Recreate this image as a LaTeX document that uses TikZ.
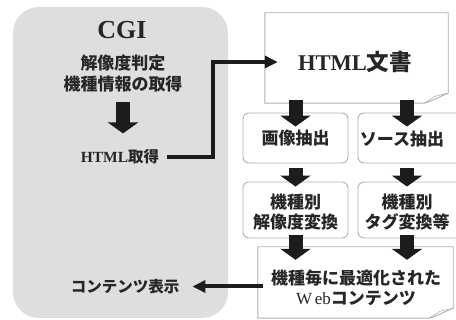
\documentclass[tikz,border=0pt]{standalone}
\usepackage{fontspec}
\setmainfont{Liberation Serif}
\newfontfamily\cjk{Noto Sans CJK JP}
\usetikzlibrary{arrows.meta,calc}
\definecolor{bggray}{HTML}{DEDEDE}
\definecolor{blkcol}{HTML}{1C1C1C}
\definecolor{linegray}{HTML}{B0B0B0}
\newcommand\jtxt[1]{{\cjk\bfseries #1}}
\tikzset{
  lbl/.style={inner sep=0pt, align=center, font=\fontsize{17}{20.5}\selectfont\bfseries, text=black!85},
  roundbox/.style={draw=linegray, line width=0.9pt, rounded corners=6pt, fill=white},
  docframe/.style={inner sep=0pt},
  docline/.style={draw=linegray, line width=0.9pt, fill=white},
  blk/.style={draw=blkcol, line width=14pt, -{Triangle[width=30pt,length=11pt]}},
  conn/.style={draw=blkcol, line width=4pt, -{Triangle[width=12pt,length=13pt]}},
}
\begin{document}
\begin{tikzpicture}[x=1pt,y=-1pt]
\useasboundingbox (0,0) rectangle (456,320);
\clip (0,0) rectangle (456,320);
% CGI background
\node[fill=bggray, rounded corners=26pt, minimum width=215pt, minimum height=311pt, inner sep=0pt] (cgibox) at (120.5,162.5) {};
\node[lbl, font=\fontsize{26}{28}\selectfont\bfseries] (cgi) at (122,30) {CGI};
\node[lbl] (judge) at (123,73.5) {\jtxt{解像度判定}\\\jtxt{機種情報の取得}};
\node[lbl, font=\fontsize{15.5}{18}\selectfont\bfseries] (get) at (120,157) {HTML\jtxt{取得}};
\node[lbl, font=\fontsize{15.5}{18}\selectfont\bfseries] (show) at (125,286.5) {\jtxt{コンテンツ表示}};
% HTML document
\node[docframe, minimum width=183pt, minimum height=90pt] (html) at (356.5,58) {};
\draw[docline] (html.north west) -- (html.north east) -- ($(html.south east)+(0,-10)$)
  .. controls ($(html.south east)+(-8,-7)$) and ($(html.south east)+(-16,-2)$) .. ($(html.south east)+(-24,0)$)
  -- (html.south west) -- cycle;
\draw[docline, fill=none, line width=0.6pt] ($(html.south east)+(-24,0)$) -- ($(html.south east)+(-13,-7)$) -- ($(html.south east)+(0,-10)$);
\node[lbl, font=\fontsize{22.5}{25}\selectfont\bfseries] (htmltxt) at (355,62) {HTML\jtxt{文書}};
% boxes
\node[roundbox, minimum width=105pt, minimum height=50pt, inner sep=0pt] (img) at (295.5,138) {};
\node[lbl] at (img.center) {\jtxt{画像抽出}};
\node[roundbox, minimum width=106pt, minimum height=50pt, inner sep=0pt] (src) at (411,138) {};
\node[lbl] at (402,139) {\jtxt{ソース抽出}};
\node[roundbox, minimum width=105pt, minimum height=56pt, inner sep=0pt] (conv) at (295.5,210) {};
\node[lbl] at (295.5,212) {\jtxt{機種別}\\\jtxt{解像度変換}};
\node[roundbox, minimum width=106pt, minimum height=56pt, inner sep=0pt] (tag) at (411,210) {};
\node[lbl] at (407,212) {\jtxt{機種別}\\\jtxt{タグ変換等}};
% Web document
\node[docframe, minimum width=195pt, minimum height=71pt] (web) at (355.5,282.5) {};
\draw[docline] (web.north west) -- (web.north east) -- ($(web.south east)+(0,-10)$)
  .. controls ($(web.south east)+(-8,-7)$) and ($(web.south east)+(-16,-2)$) .. ($(web.south east)+(-24,0)$)
  -- (web.south west) -- cycle;
\draw[docline, fill=none, line width=0.6pt] ($(web.south east)+(-24,0)$) -- ($(web.south east)+(-13,-7)$) -- ($(web.south east)+(0,-10)$);
\node[lbl] (webtxt) at (356,288) {\jtxt{機種毎に最適化された}\\{\mdseries W\,eb}\jtxt{コンテンツ}};
% block arrows
\draw[blk] ($(judge.south)+(0,10)$) -- ($(get.north)+(3,-16)$);
\draw[blk] ($(html.south -| img.north)+(0,-3)$) -- ($(img.north)+(0,14)$);
\draw[blk] ($(html.south -| src.north)+(-4,-3)$) -- ($(src.north)+(-4,14)$);
\draw[blk] ($(img.south)+(0,5)$) -- ($(conv.north)+(0,5)$);
\draw[blk] ($(src.south)+(-4,5)$) -- ($(tag.north)+(-4,5)$);
\draw[blk] ($(conv.south)+(0,-3)$) -- ($(web.north -| conv.south)+(0,13)$);
\draw[blk] ($(tag.south)+(-4,-3)$) -- ($(web.north -| tag.south)+(-4,13)$);
% connectors
\draw[conn] ($(get.east)+(8,0)$) -| (213,120) |- ($(html.west)+(13,4)$);
\draw[conn] ($(web.west)+(5,4)$) -- ($(show.east)+(13,0)$);
\end{tikzpicture}
\end{document}
